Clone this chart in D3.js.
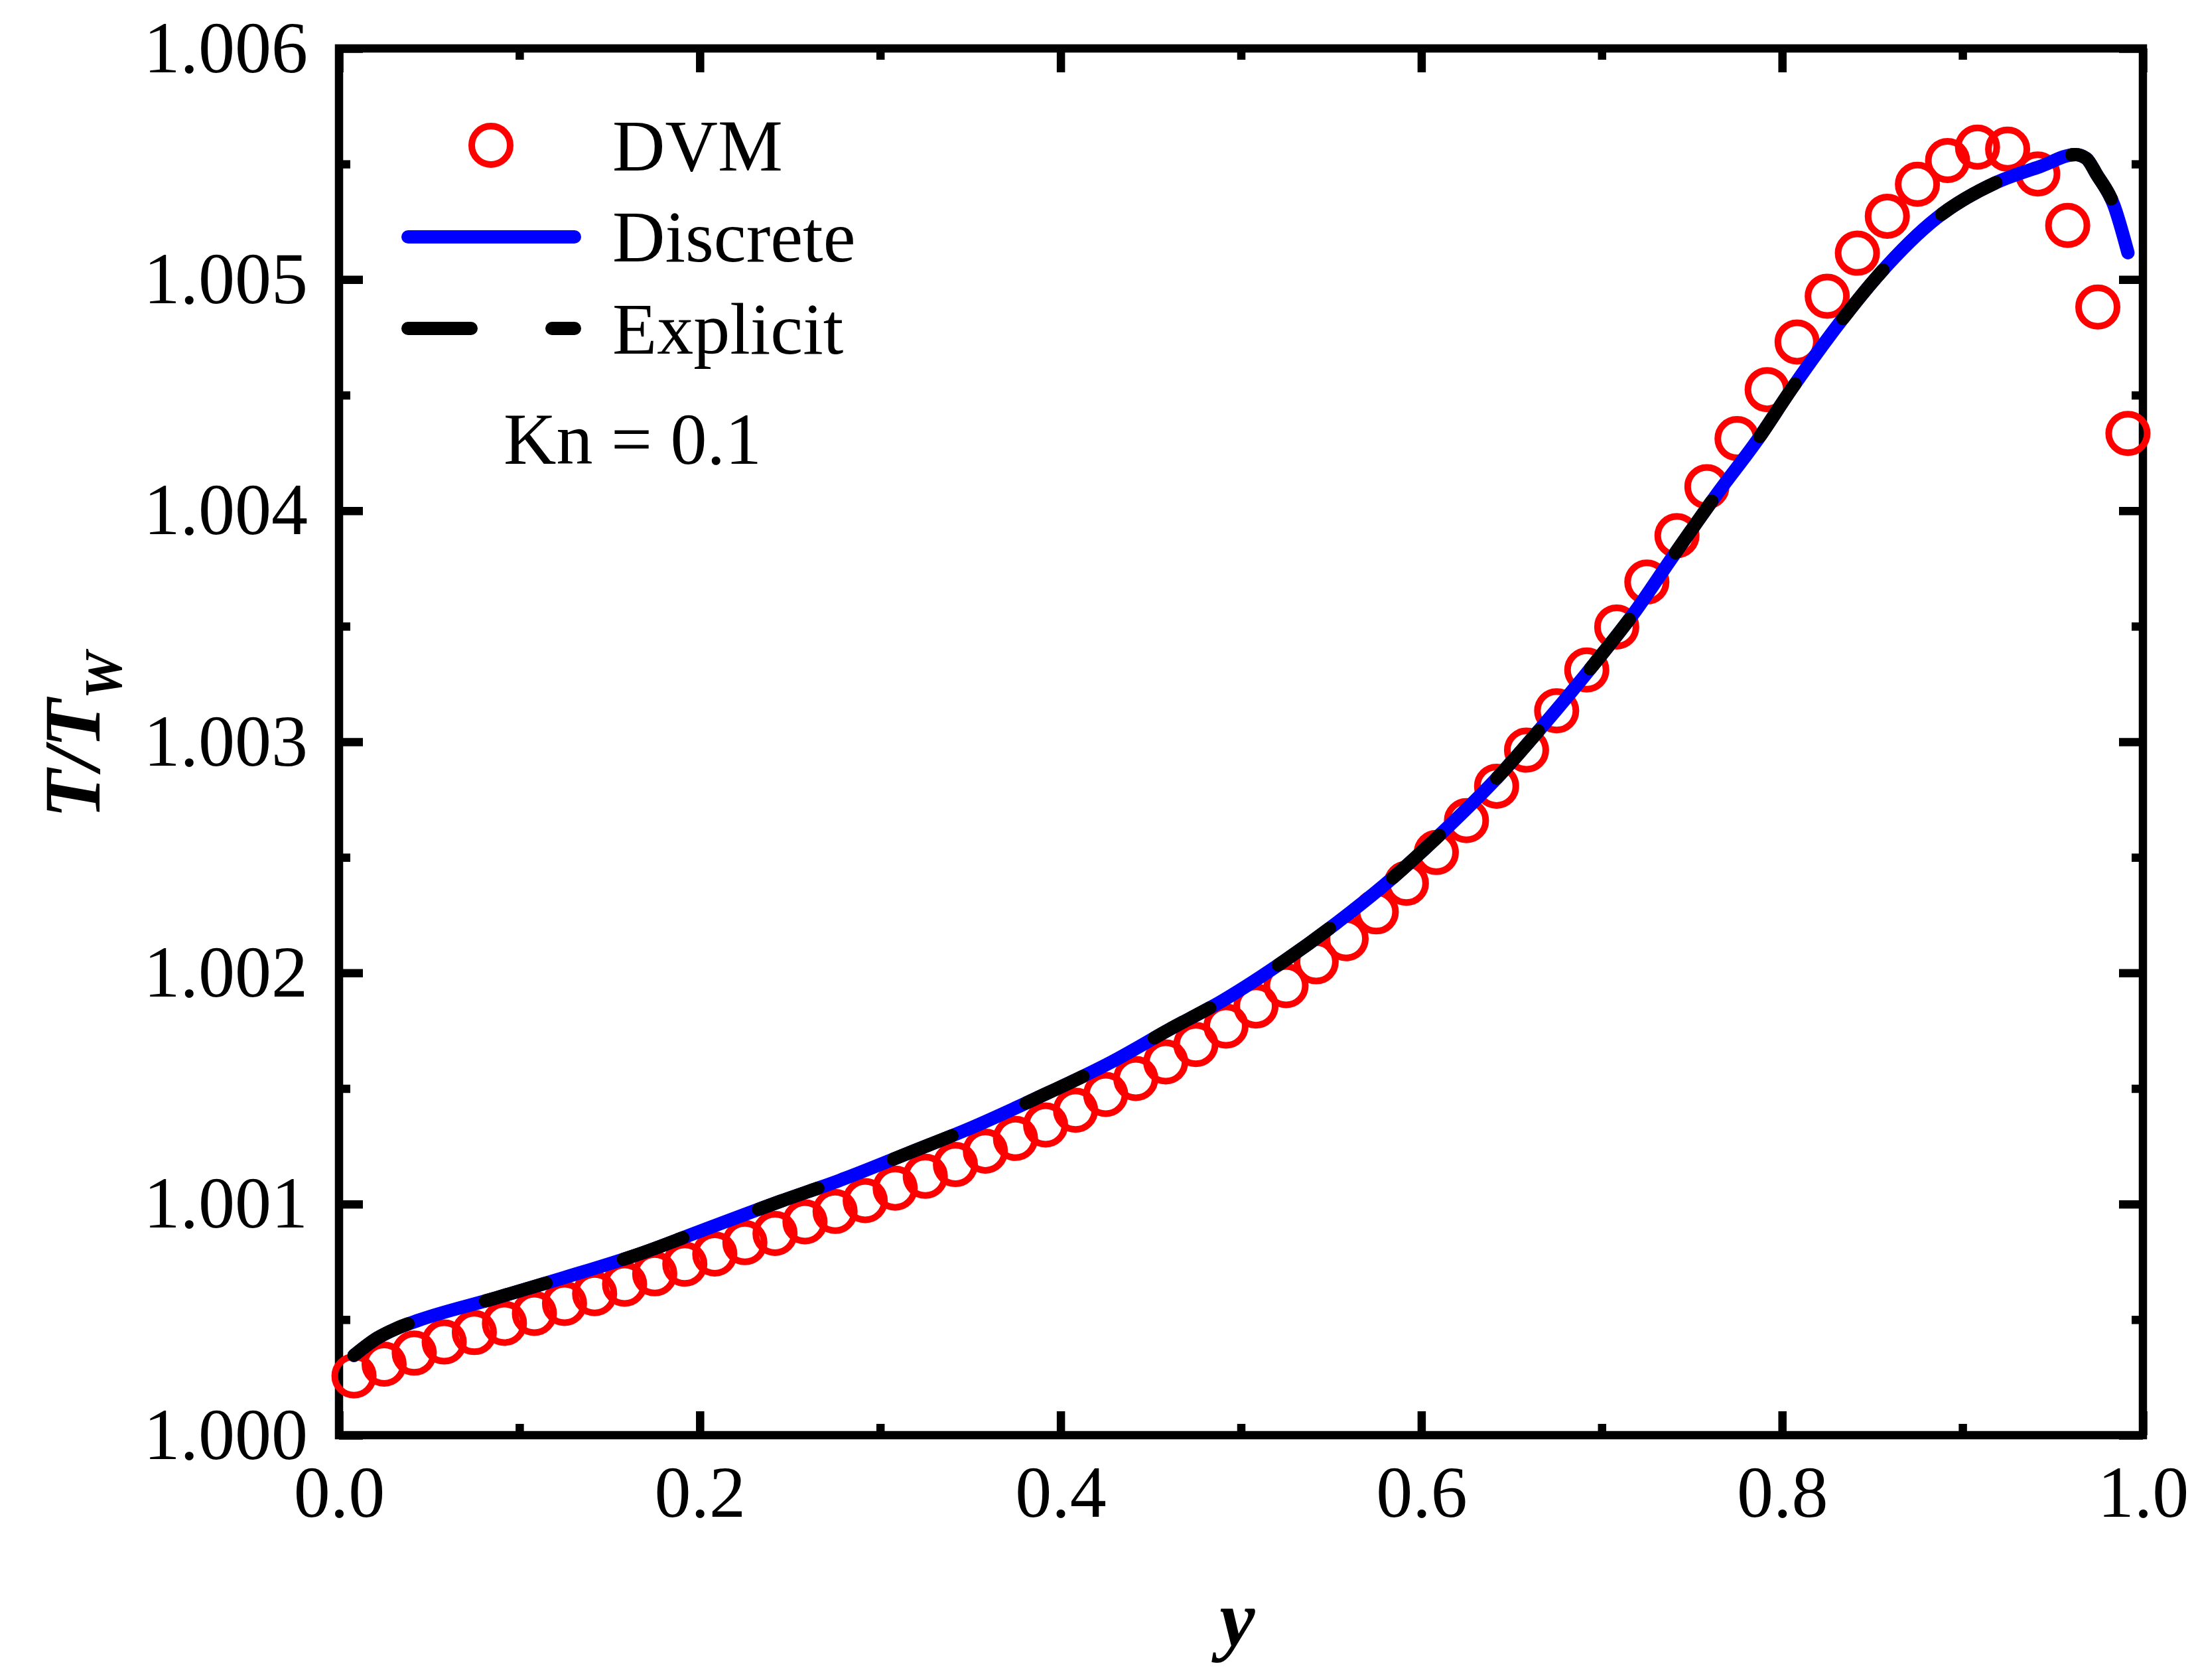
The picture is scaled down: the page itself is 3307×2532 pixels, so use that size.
<!DOCTYPE html>
<html>
<head>
<meta charset="utf-8">
<script src="https://cdn.jsdelivr.net/npm/d3@7"></script>
<style>
  body { margin: 0; background: #fff; }
  text { font-family: "Liberation Serif", "Times New Roman", serif; }
</style>
</head>
<body>
<div class="canvas"></div>
<script>
// DVM points
const dvmX = [0.0083, 0.0250, 0.0417, 0.0583, 0.0750, 0.0917, 0.1083, 0.1250, 0.1417, 0.1583,
              0.1750, 0.1917, 0.2083, 0.2250, 0.2417, 0.2583, 0.2750, 0.2917, 0.3083, 0.3250,
              0.3417, 0.3583, 0.3750, 0.3917, 0.4083, 0.4250, 0.4417, 0.4583, 0.4750, 0.4917,
              0.5083, 0.5250, 0.5417, 0.5583, 0.5750, 0.5917, 0.6083, 0.6250, 0.6417, 0.6583,
              0.6750, 0.6917, 0.7083, 0.7250, 0.7417, 0.7583, 0.7750, 0.7917, 0.8083, 0.8250,
              0.8417, 0.8583, 0.8750, 0.8917, 0.9083, 0.9250, 0.9417, 0.9583, 0.9750, 0.9917];
const dvmT = [1.000256, 1.000307, 1.000355, 1.000403, 1.000444, 1.000484, 1.000527, 1.000570, 1.000612, 1.000653,
              1.000698, 1.000740, 1.000784, 1.000833, 1.000873, 1.000923, 1.000968, 1.001015, 1.001069, 1.001120,
              1.001171, 1.001229, 1.001284, 1.001342, 1.001406, 1.001474, 1.001543, 1.001615, 1.001690, 1.001770,
              1.001857, 1.001945, 1.002048, 1.002148, 1.002264, 1.002388, 1.002521, 1.002659, 1.002808, 1.002964,
              1.003134, 1.003311, 1.003497, 1.003691, 1.003892, 1.004104, 1.004312, 1.004524, 1.004730, 1.004928,
              1.005114, 1.005274, 1.005412, 1.005515, 1.005573, 1.005564, 1.005457, 1.005234, 1.004881, 1.004334];

// model curves
const lineX = [0.0083, 0.0214, 0.0313, 0.0444, 0.0871, 0.1232, 0.1676, 0.2004, 0.2447, 0.2777,
               0.3171, 0.3499, 0.3861, 0.4288, 0.4600, 0.4900, 0.5240, 0.5520, 0.5842, 0.6120,
               0.6440, 0.6678, 0.6957, 0.7187, 0.7378, 0.7657, 0.7854, 0.8059, 0.8322, 0.8544,
               0.8855, 0.9184, 0.9430, 0.9627, 0.9686, 0.9745, 0.9839, 0.9917];
const discreteT = [1.000345, 1.000421, 1.000460, 1.000498, 1.000594, 1.000678, 1.000787, 1.000883, 1.001012, 1.001103,
                   1.001225, 1.001328, 1.001456, 1.001617, 1.001754, 1.001881, 1.002052, 1.002210, 1.002412, 1.002611,
                   1.002861, 1.003073, 1.003336, 1.003566, 1.003783, 1.004091, 1.004296, 1.004534, 1.004816, 1.005028,
                   1.005265, 1.005419, 1.005489, 1.005541, 1.005524, 1.005453, 1.005322, 1.005116];
const explicitT = [1.000345, 1.000421, 1.000460, 1.000498, 1.000594, 1.000678, 1.000787, 1.000883, 1.001012, 1.001103,
                   1.001225, 1.001328, 1.001456, 1.001617, 1.001754, 1.001881, 1.002052, 1.002210, 1.002412, 1.002611,
                   1.002861, 1.003073, 1.003336, 1.003566, 1.003783, 1.004091, 1.004296, 1.004534, 1.004816, 1.005028,
                   1.005265, 1.005419, 1.005489, 1.005541, 1.005524, 1.005453, 1.005322, 1.005116];

const xTicks = [0, 0.2, 0.4, 0.6, 0.8, 1.0];
const xMinor = [0.1, 0.3, 0.5, 0.7, 0.9];
const yTicks = [1.000, 1.001, 1.002, 1.003, 1.004, 1.005, 1.006];
const yMinor = [1.0005, 1.0015, 1.0025, 1.0035, 1.0045, 1.0055];
const legendNames = ['DVM', 'Discrete', 'Explicit'];

const dims = {width: 3307, height: 2532};
const plot = {left: 511, right: 3230, top: 73, bottom: 2163};
const font = '"Liberation Serif", "Times New Roman", serif';
const dash = '95,122';

const svg = d3.select('.canvas')
  .append('svg')
    .attr('width', dims.width)
    .attr('height', dims.height)
    .style('display', 'block');

svg.append('rect')
  .attr('width', dims.width).attr('height', dims.height)
  .attr('fill', '#fff');

const x = d3.scaleLinear().domain([0, 1]).range([plot.left, plot.right]);
const y = d3.scaleLinear().domain([1.000, 1.006]).range([plot.bottom, plot.top]);

// axes: major + minor ticks, all pointing inwards, mirrored on top/right
const addAxis = (axis, tx, ty) => {
  const g = svg.append('g')
    .attr('transform', `translate(${tx},${ty})`)
    .call(axis)
    .attr('font-size', 110)
    .attr('font-family', font);
  g.select('.domain').remove();
  g.selectAll('.tick line').attr('stroke', '#000').attr('stroke-width', 12.5);
  return g;
};

addAxis(d3.axisBottom(x).tickValues(xTicks).tickFormat(d3.format('.1f')).tickSize(-36).tickPadding(45), 0, plot.bottom);
addAxis(d3.axisBottom(x).tickValues(xMinor).tickFormat('').tickSize(-17), 0, plot.bottom);
addAxis(d3.axisTop(x).tickValues(xTicks).tickFormat('').tickSize(-36), 0, plot.top);
addAxis(d3.axisTop(x).tickValues(xMinor).tickFormat('').tickSize(-17), 0, plot.top);

addAxis(d3.axisLeft(y).tickValues(yTicks).tickFormat(d3.format('.3f')).tickSize(-36).tickPadding(47), plot.left, 0);
addAxis(d3.axisLeft(y).tickValues(yMinor).tickFormat('').tickSize(-17), plot.left, 0);
addAxis(d3.axisRight(y).tickValues(yTicks).tickFormat('').tickSize(-36), plot.right, 0);
addAxis(d3.axisRight(y).tickValues(yMinor).tickFormat('').tickSize(-17), plot.right, 0);

svg.append('rect')
  .attr('x', plot.left).attr('y', plot.top)
  .attr('width', plot.right - plot.left)
  .attr('height', plot.bottom - plot.top)
  .attr('fill', 'none')
  .attr('stroke', '#000')
  .attr('stroke-width', 12.5);

// axis titles
const yLab = svg.append('text')
  .attr('transform', 'translate(150,1108) rotate(-90)')
  .attr('text-anchor', 'middle')
  .attr('font-size', 120)
  .attr('font-weight', 'bold')
  .attr('font-style', 'italic');
yLab.append('tspan').text('T/T');
yLab.append('tspan').attr('dy', 33).attr('font-size', 80).text('W');

svg.append('text')
  .attr('x', 1865).attr('y', 2480)
  .attr('text-anchor', 'middle')
  .attr('font-size', 120)
  .attr('font-weight', 'bold')
  .attr('font-style', 'italic')
  .text('y');

// data
svg.append('g').selectAll('circle')
  .data(d3.zip(dvmX, dvmT))
  .enter()
  .append('circle')
    .attr('cx', d => x(d[0]))
    .attr('cy', d => y(d[1]))
    .attr('r', 29)
    .attr('fill', 'none')
    .attr('stroke', '#ff0000')
    .attr('stroke-width', 10);

const linePath = d3.line()
  .x(d => x(d[0]))
  .y(d => y(d[1]))
  .curve(d3.curveMonotoneX);

svg.append('path')
  .attr('d', linePath(d3.zip(lineX, discreteT)))
  .attr('fill', 'none')
  .attr('stroke', '#0000ff')
  .attr('stroke-width', 20)
  .attr('stroke-linecap', 'round')
  .attr('stroke-linejoin', 'round');

svg.append('path')
  .attr('d', linePath(d3.zip(lineX, explicitT)))
  .attr('fill', 'none')
  .attr('stroke', '#000')
  .attr('stroke-width', 20)
  .attr('stroke-dasharray', dash)
  .attr('stroke-linecap', 'round')
  .attr('stroke-linejoin', 'round');

// legend
const legend = svg.append('g').attr('font-size', 110);

legend.append('circle')
  .attr('cx', 740).attr('cy', 219).attr('r', 29)
  .attr('fill', 'none').attr('stroke', '#ff0000').attr('stroke-width', 10);

legend.append('line')
  .attr('x1', 615).attr('x2', 866).attr('y1', 357).attr('y2', 357)
  .attr('stroke', '#0000ff').attr('stroke-width', 20).attr('stroke-linecap', 'round');

legend.append('line')
  .attr('x1', 615).attr('x2', 866).attr('y1', 495).attr('y2', 495)
  .attr('stroke', '#000').attr('stroke-width', 20).attr('stroke-linecap', 'round')
  .attr('stroke-dasharray', dash);

legend.selectAll('text.name')
  .data(legendNames)
  .enter()
  .append('text')
    .attr('class', 'name')
    .attr('x', 923)
    .attr('y', (d, i) => [257, 394, 533][i])
    .text(d => d);

legend.append('text')
  .attr('x', 759).attr('y', 699)
  .text('Kn = 0.1');
</script>
</body>
</html>
